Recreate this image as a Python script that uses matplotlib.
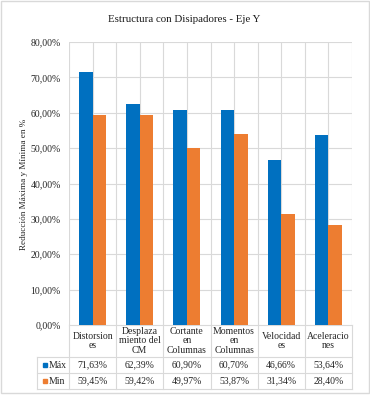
import matplotlib.pyplot as plt
import numpy as np
from matplotlib.patches import Rectangle

plt.rcParams['font.family'] = ['Liberation Serif', 'DejaVu Serif']

categorias = ["Distorsion\nes", "Desplaza\nmiento del\nCM", "Cortante\nen\nColumnas",
              "Momentos\nen\nColumnas", "Velocidad\nes", "Aceleracio\nnes"]
val_max = [71.63, 62.39, 60.90, 60.70, 46.66, 53.64]
val_min = [59.45, 59.42, 49.97, 53.87, 31.34, 28.40]
series = ["Máx", "Min"]
colores = ["#0070C0", "#ED7D31"]

def pct(v):
    return f"{v:.2f}%".replace(".", ",")

txt = "#262626"
fig = plt.figure(figsize=(3.7, 3.97), dpi=100)
ax = fig.add_axes([69/370, 1-325/397, (352-69)/370, (325-42)/397])

x = np.arange(len(categorias))
w = 0.285
ax.bar(x - w/2, val_max, w, color=colores[0], zorder=3)
ax.bar(x + w/2, val_min, w, color=colores[1], zorder=3)

ax.set_xlim(-0.5, len(categorias) - 0.5)
ax.set_ylim(0, 80)
ax.set_yticks(np.arange(0, 81, 10))
ax.set_yticklabels([pct(t) for t in np.arange(0, 81, 10)], fontsize=7, color=txt)
ax.set_xticks([])
ax.tick_params(length=0, pad=6)
for s in ax.spines.values():
    s.set_visible(False)

gris = "#D9D9D9"
for t in np.arange(10, 81, 10):
    ax.axhline(t, color=gris, lw=0.8, zorder=1)
for xv in np.arange(-0.5, len(categorias), 0.5):
    ax.axvline(xv, color=gris, lw=0.8, zorder=1)

# tabla de datos
tr = ax.get_xaxis_transform()
y1, y2, y3 = -0.113, -0.170, -0.226
xl = -0.5 - 32/47.2
xr = len(categorias) - 0.5
ax.plot([-0.5, xr], [0, 0], color=gris, lw=0.8, transform=tr, clip_on=False)
for yy in (y1, y2, y3):
    ax.plot([xl, xr], [yy, yy], color=gris, lw=0.8, transform=tr, clip_on=False)
for xv in np.arange(-0.5, len(categorias), 1.0):
    ax.plot([xv, xv], [0, y3], color=gris, lw=0.8, transform=tr, clip_on=False)
ax.plot([xl, xl], [y1, y3], color=gris, lw=0.8, transform=tr, clip_on=False)

for i, c in enumerate(categorias):
    ax.text(i, y1/2, c, ha="center", va="center", fontsize=7, color=txt,
            transform=tr, linespacing=1.02)
    ax.text(i, (y1+y2)/2, pct(val_max[i]), ha="center", va="center", fontsize=7,
            color=txt, transform=tr)
    ax.text(i, (y2+y3)/2, pct(val_min[i]), ha="center", va="center", fontsize=7,
            color=txt, transform=tr)

for yy, nombre, col in ((y1+y2)/2, series[0], colores[0]), ((y2+y3)/2, series[1], colores[1]):
    ax.plot([xl + 0.16], [yy], marker="s", ms=3.3, color=col, transform=tr, clip_on=False)
    ax.text(xl + 0.24, yy, nombre, ha="left", va="center", fontsize=7,
            color=txt, transform=tr)

fig.text(184/370, 1-19/397, "Estructura con Disipadores - Eje Y", ha="center", va="center",
         fontsize=7.8, color="#1a1a1a")
fig.text(24/370, 1-184/397, "Reducción Máxima y Mínima en %", rotation=90, ha="center",
         va="center", fontsize=6.6, color=txt)

fig.patches.append(Rectangle((1/370, 4/397), 368/370, 392/397, transform=fig.transFigure,
                             fill=False, edgecolor=gris, lw=1))

fig.savefig("out.png", dpi=100)
